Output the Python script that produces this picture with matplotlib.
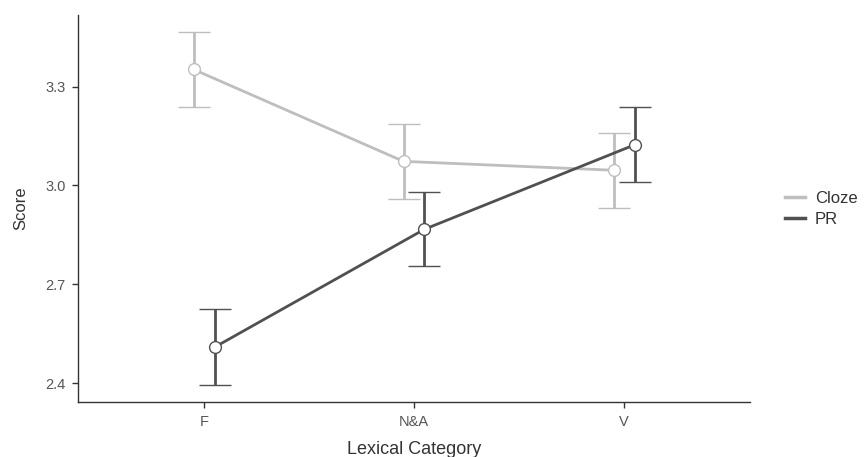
import numpy as np
import matplotlib.pyplot as plt
from matplotlib.lines import Line2D

plt.rcParams['font.family'] = ['Liberation Sans', 'DejaVu Sans']

categories = ['F', 'N&A', 'V']
groups = ['Cloze', 'PR']
cloze_mean = [3.352, 3.073, 3.046]
cloze_lo = [3.238, 2.959, 2.932]
cloze_hi = [3.465, 3.186, 3.158]
pr_mean = [2.509, 2.867, 3.123]
pr_lo = [2.395, 2.756, 3.010]
pr_hi = [2.624, 2.980, 3.238]

colors = {'Cloze': '#BEBEBE', 'PR': '#505050'}
series = {
    'Cloze': (cloze_mean, cloze_lo, cloze_hi, -0.05),
    'PR': (pr_mean, pr_lo, pr_hi, 0.05),
}

fig = plt.figure(figsize=(8.67, 4.57), dpi=100)
ax = fig.add_axes([78 / 867, 1 - 402.3 / 457, (750 - 78) / 867, (402.3 - 15) / 457])

x = np.arange(1, len(categories) + 1)
for g in groups:
    m, lo, hi, dx = series[g]
    m = np.array(m)
    err = [m - np.array(lo), np.array(hi) - m]
    ax.errorbar(x + dx, m, yerr=err, color=colors[g], lw=2, capsize=11.3,
                capthick=2, elinewidth=2, marker='o', markersize=8.5,
                markerfacecolor='white', markeredgecolor=colors[g],
                markeredgewidth=1.0, zorder=3)

ax.set_xlim(0.4, 3.6)
ax.set_ylim(2.342, 3.517)
ax.set_xticks(x)
ax.set_xticklabels(categories)
ax.set_yticks([2.4, 2.7, 3.0, 3.3])
ax.set_yticklabels(['2.4', '2.7', '3.0', '3.3'])
for s in ['top', 'right']:
    ax.spines[s].set_visible(False)
for s in ['left', 'bottom']:
    ax.spines[s].set_color('#333333')
    ax.spines[s].set_linewidth(1.0)
ax.tick_params(labelsize=10.5, length=4, width=1, pad=5,
               colors='#333333', labelcolor='#555555')
ax.set_xlabel('Lexical Category', fontsize=13, color='#333333', labelpad=9)
ax.set_ylabel('Score', fontsize=12, color='#333333', labelpad=12)

handles = [Line2D([0], [0], color=colors[g], lw=2.5) for g in groups]
fig.legend(handles, groups, loc='center left', bbox_to_anchor=(770 / 867, 1 - 209 / 457),
           frameon=False, fontsize=12, handlelength=1.2, handletextpad=0.6,
           labelspacing=0.35, labelcolor='#333333')

fig.savefig('out.png', dpi=100)
